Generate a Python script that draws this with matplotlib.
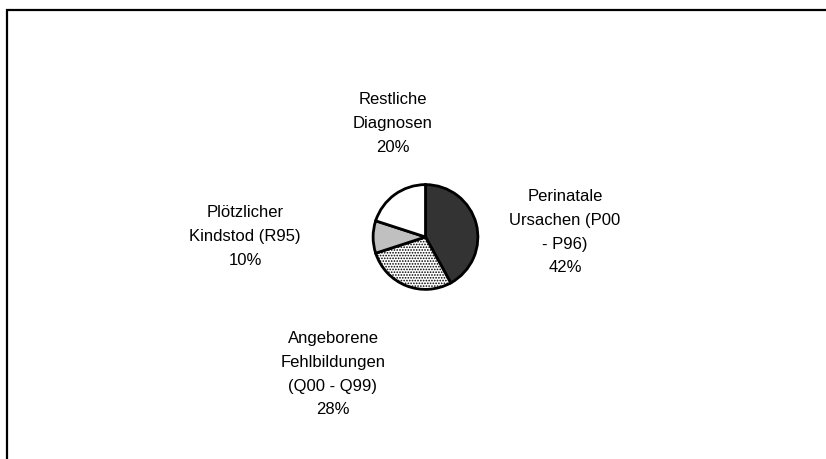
import matplotlib
matplotlib.use("Agg")
import matplotlib.pyplot as plt
from matplotlib.patches import Rectangle

plt.rcParams["font.family"] = ["Liberation Sans", "DejaVu Sans"]

categories = ["Perinatale\nUrsachen (P00\n- P96)", "Angeborene\nFehlbildungen\n(Q00 - Q99)",
              "Plötzlicher\nKindstod (R95)", "Restliche\nDiagnosen"]
shares = [42, 28, 10, 20]
colors = ["#333333", "#ffffff", "#c0c0c0", "#ffffff"]
hatches = [None, "......", None, None]

W, H = 826, 459
fig = plt.figure(figsize=(W / 100, H / 100), dpi=100)

# outer frame (runs off the right and bottom edges)
fig.patches.append(Rectangle((7.5 / W, -0.1), 2, 1.1 - 10.5 / H, transform=fig.transFigure,
                             fill=False, edgecolor="black", linewidth=1.6))

cx, cy, r = 425.5, 237, 55
ax = fig.add_axes([(cx - r) / W, (H - cy - r) / H, 2 * r / W, 2 * r / H])
plt.rcParams["hatch.color"] = "#7a7a7a"
plt.rcParams["hatch.linewidth"] = 0.8
wedges, _ = ax.pie(shares, colors=colors, startangle=90, counterclock=False,
                   wedgeprops=dict(edgecolor="black", linewidth=2.0))
for w, h in zip(wedges, hatches):
    if h:
        w.set_hatch(h)
ax.set_xlim(-1.05, 1.05)
ax.set_ylim(-1.05, 1.05)
ax.set_aspect("equal")
ax.axis("off")

# label anchors (pixel, top of text block)
label_pos = [(565, 189), (333, 331), (245, 205), (393, 92)]
for cat, val, (x, y) in zip(categories, shares, label_pos):
    fig.text(x / W, 1 - y / H, f"{cat}\n{val}%", ha="center", va="top",
             fontsize=12, linespacing=1.73)

fig.savefig("out.png", dpi=100)
